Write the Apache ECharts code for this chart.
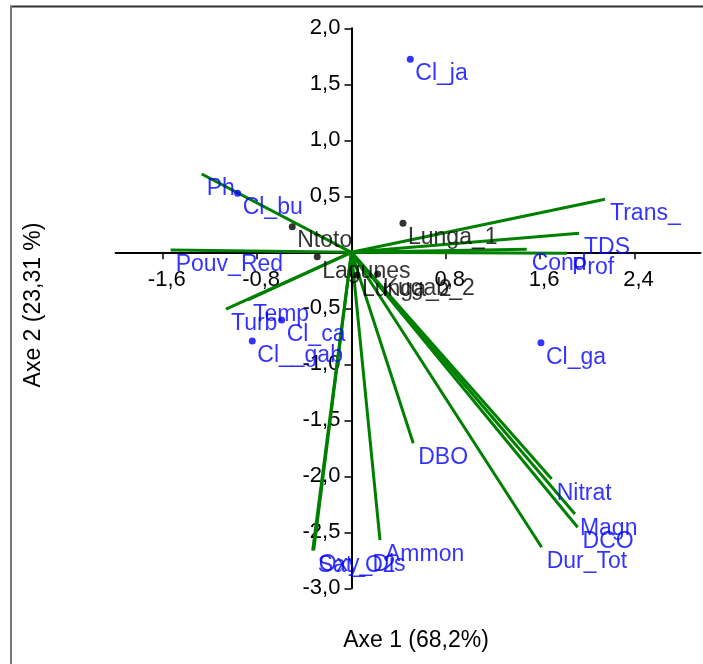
<!DOCTYPE html>
<html><head><meta charset="utf-8">
<script src="https://cdn.jsdelivr.net/npm/echarts@6/dist/echarts.min.js"></script>
<style>html,body{margin:0;padding:0;background:#fff}#c{width:703px;height:664px}</style>
</head><body><div id="c"></div>
<script>
const FONT = '"Liberation Sans", Arial, sans-serif';

// Axis ticks
const xTickLabels = [-1.6, -0.8, 0.8, 1.6, 2.4];
const yTickLabels = [2.0, 1.5, 1.0, 0.5, -0.5, -1.0, -1.5, -2.0, -2.5, -3.0];

// Variables (loading vectors)
const vecNames = ['Ph','Pouv_Red','Turb','Temp','Trans_','TDS','Cond','Prof','Nitrat','Magn','DCO','Dur_Tot','DBO','Ammon','Sat_O2','Oxy_Dis'];
const vecX = [-1.270,-1.533,-1.064,-0.878, 2.150, 1.930, 1.486, 1.827, 1.698, 1.895, 1.918, 1.613, 0.524, 0.242,-0.329,-0.320];
const vecY = [ 0.699, 0.021,-0.508,-0.426, 0.473, 0.170, 0.027,-0.009,-2.024,-2.337,-2.455,-2.634,-1.705,-2.569,-2.664,-2.660];

// Blue points (classes)
const bluePts = ['Cl_ja','Cl_bu','Cl_ca','Cl__gab','Cl_ga'];
const blueX = [0.499,-0.965,-0.592,-0.841, 1.607];
const blueY = [1.723, 0.527,-0.604,-0.792,-0.807];

// Black points (sites)
const blackPts = ['Ntoto','Lagunes','Lunga_1','Lunga_2','Kugab_2'];
const blackX = [-0.502,-0.290, 0.437, 0.047, 0.222];
const blackY = [ 0.229,-0.039, 0.259,-0.203,-0.194];

const fmt = v => Number(v).toFixed(1).replace('.', ',');

const X_MIN = -2, X_MAX = 2.96, Y_MIN = -3, Y_MAX = 2;
const G = {left: 115.6, top: 28.3, width: 584.9, height: 560};

function labelCfg(color) {
  return {
    show: true, formatter: p => p.data[2], position: 'inside',
    align: 'left', verticalAlign: 'top', offset: [5, 3],
    color: color, fontSize: 23, fontFamily: FONT
  };
}

const chart = echarts.init(document.getElementById('c'), null, {renderer: 'canvas'});
chart.setOption({
  animation: false,
  backgroundColor: '#fff',
  grid: Object.assign({outerBoundsMode: 'none'}, G),
  xAxis: {
    type: 'value', min: X_MIN, max: X_MAX, position: 'bottom',
    offset: -G.height * (0 - Y_MIN) / (Y_MAX - Y_MIN),
    axisLine: {onZero: false, lineStyle: {color: '#000', width: 2}},
    axisTick: {show: true, length: 7, lineStyle: {color: '#000', width: 1.5}, customValues: [-1.6,-0.8,0,0.8,1.6,2.4]},
    axisLabel: {customValues: xTickLabels, formatter: fmt, margin: 17, color: '#000', fontSize: 22, fontFamily: FONT, padding: [0,0,0,8]},
    splitLine: {show: false}
  },
  yAxis: {
    type: 'value', min: Y_MIN, max: Y_MAX, interval: 0.5, position: 'left',
    offset: -G.width * (0 - X_MIN) / (X_MAX - X_MIN),
    axisLine: {onZero: false, lineStyle: {color: '#000', width: 2}},
    axisTick: {show: true, length: 7, lineStyle: {color: '#000', width: 1.5}},
    axisLabel: {customValues: yTickLabels, formatter: fmt, margin: 11, color: '#000', fontSize: 22, fontFamily: FONT},
    splitLine: {show: false}
  },
  graphic: [
    {type: 'line', shape: {x1: 10, y1: 6.5, x2: 703, y2: 6.5}, style: {stroke: '#333', lineWidth: 2}},
    {type: 'line', shape: {x1: 11, y1: 6, x2: 11, y2: 664}, style: {stroke: '#777', lineWidth: 2}},
    {type: 'text', x: 416, y: 641, style: {text: 'Axe 1 (68,2%)', font: '23px ' + FONT, fill: '#000', align: 'center', verticalAlign: 'middle'}},
    {type: 'text', x: 34, y: 305, rotation: Math.PI / 2, style: {text: 'Axe 2 (23,31 %)', font: '23px ' + FONT, fill: '#000', align: 'center', verticalAlign: 'middle'}}
  ],
  series: [
    {
      type: 'lines', coordinateSystem: 'cartesian2d', silent: true, z: 3,
      lineStyle: {color: '#008000', width: 3, opacity: 1},
      data: vecNames.map((n, i) => ({name: n, coords: [[0, 0], [vecX[i], vecY[i]]]}))
    },
    {
      type: 'scatter', z: 4, symbol: 'circle', symbolSize: 1, silent: true,
      itemStyle: {color: 'rgba(0,0,0,0)'}, emphasis: {disabled: true},
      label: labelCfg('#0000ff'),
      data: vecNames.map((n, i) => [vecX[i], vecY[i], n])
    },
    {
      type: 'scatter', z: 5, symbol: 'circle', symbolSize: 7, silent: true,
      itemStyle: {color: '#0000ff'}, emphasis: {disabled: true},
      label: labelCfg('#0000ff'),
      data: bluePts.map((n, i) => [blueX[i], blueY[i], n])
    },
    {
      type: 'scatter', z: 5, symbol: 'circle', symbolSize: 7, silent: true,
      itemStyle: {color: '#000'}, emphasis: {disabled: true},
      label: labelCfg('#000'),
      data: blackPts.map((n, i) => [blackX[i], blackY[i], n])
    }
  ]
});
</script>
</body></html>
